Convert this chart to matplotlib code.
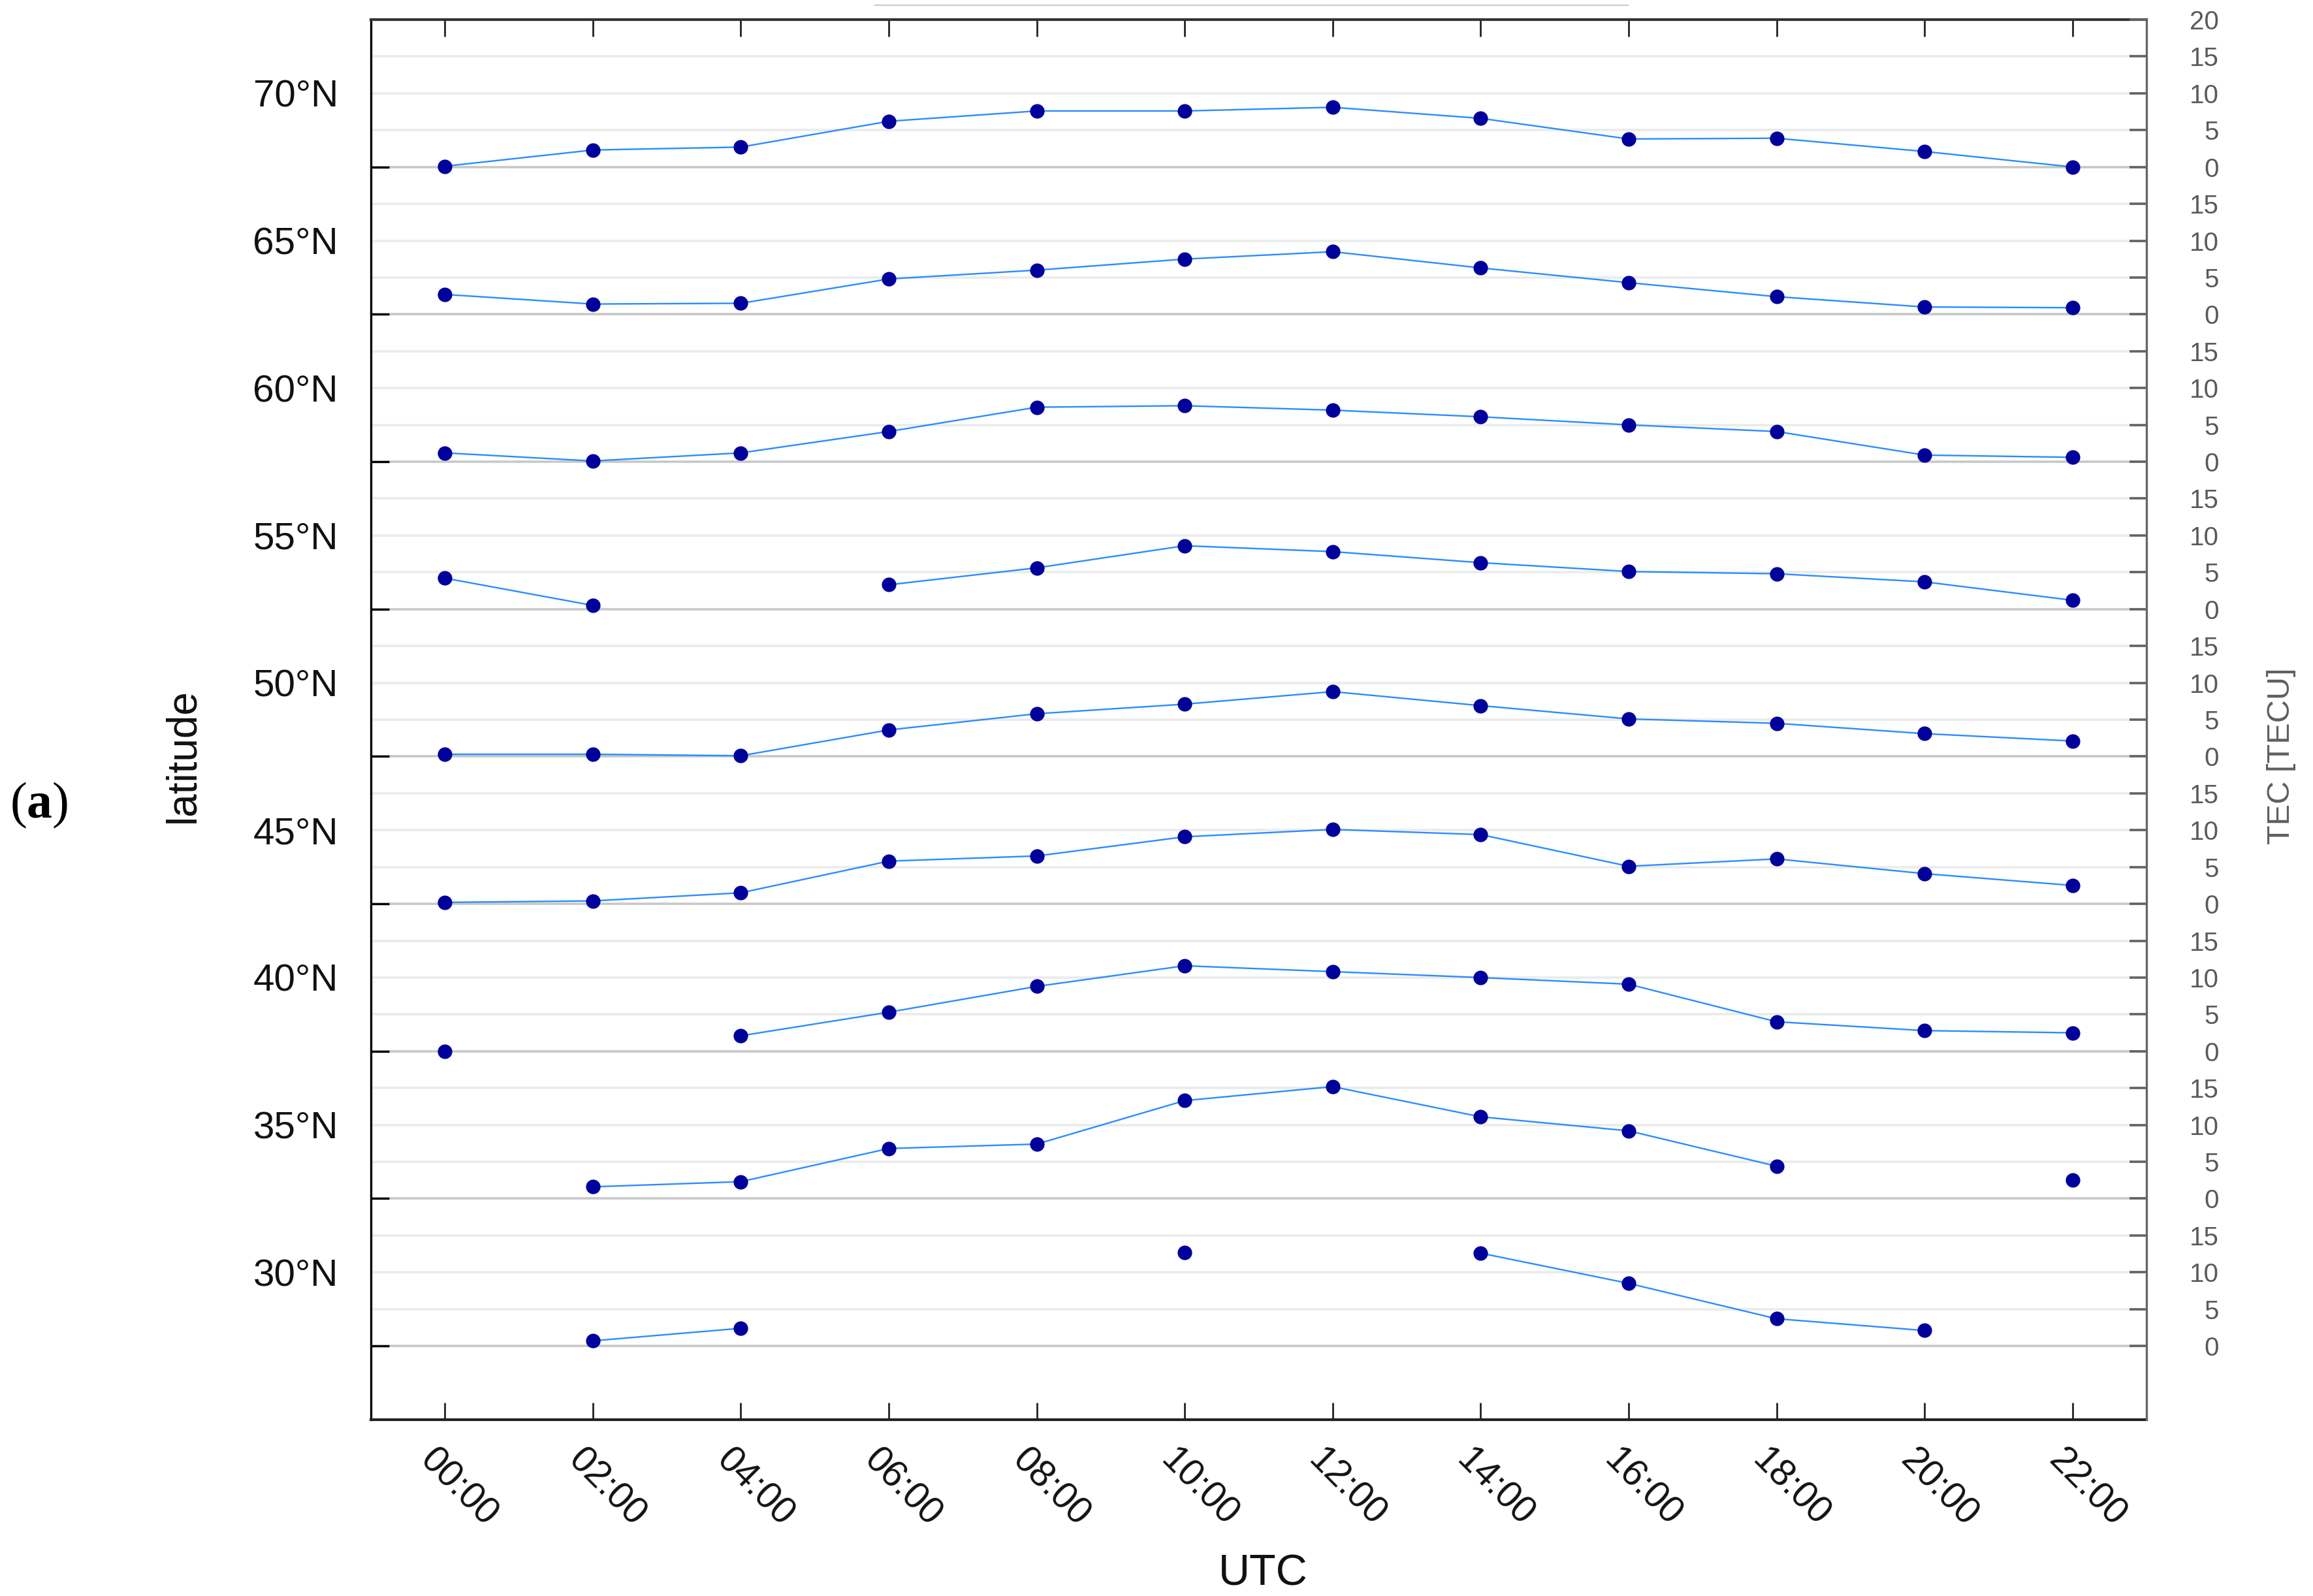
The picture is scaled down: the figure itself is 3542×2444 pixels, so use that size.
import numpy as np
import matplotlib
matplotlib.use("Agg")
import matplotlib.pyplot as plt
import matplotlib.transforms as mtransforms
from matplotlib.lines import Line2D

plt.rcParams['font.family'] = ['Liberation Sans', 'DejaVu Sans']
plt.rcParams['mathtext.fontset'] = 'custom'
plt.rcParams['mathtext.rm'] = 'Liberation Serif'
plt.rcParams['mathtext.bf'] = 'Liberation Serif:bold'

# ---- data ----
hours = [0, 2, 4, 6, 8, 10, 12, 14, 16, 18, 20, 22]
hour_labels = ["00:00", "02:00", "04:00", "06:00", "08:00", "10:00",
               "12:00", "14:00", "16:00", "18:00", "20:00", "22:00"]
nan = np.nan
lat_labels = ["70°N", "65°N", "60°N", "55°N", "50°N", "45°N", "40°N", "35°N", "30°N"]
lat_centers = [70, 65, 60, 55, 50, 45, 40, 35, 30]
tec_70 = [0.1, 2.3, 2.7, 6.2, 7.6, 7.6, 8.1, 6.6, 3.8, 3.9, 2.1, 0.0]
tec_65 = [2.7, 1.4, 1.5, 4.8, 6.0, 7.5, 8.5, 6.3, 4.3, 2.4, 1.0, 0.9]
tec_60 = [1.2, 0.1, 1.2, 4.1, 7.4, 7.6, 7.0, 6.1, 5.0, 4.1, 0.9, 0.6]
tec_55 = [4.2, 0.5, nan, 3.3, 5.6, 8.6, 7.8, 6.3, 5.1, 4.8, 3.7, 1.2]
tec_50 = [0.3, 0.3, 0.1, 3.6, 5.8, 7.1, 8.8, 6.9, 5.1, 4.5, 3.1, 2.1]
tec_45 = [0.2, 0.4, 1.5, 5.8, 6.5, 9.1, 10.1, 9.4, 5.1, 6.1, 4.1, 2.5]
tec_40 = [0.0, nan, 2.1, 5.3, 8.8, 11.6, 10.8, 10.0, 9.1, 4.0, 2.8, 2.5]
tec_35 = [nan, 1.6, 2.3, 6.8, 7.4, 13.3, 15.2, 11.1, 9.2, 4.4, nan, 2.5]
tec_30 = [nan, 0.7, 2.4, nan, nan, 12.7, nan, 12.6, 8.5, 3.7, 2.1, nan]
series = [tec_70, tec_65, tec_60, tec_55, tec_50, tec_45, tec_40, tec_35, tec_30]
tec_tick_values = [0, 5, 10, 15]

# ---- layout ----
W, H = 3542, 2444
fig = plt.figure(figsize=(W / 100, H / 100), dpi=100)
L, R, T, B = 568, 3287, 30, 2174
ax = fig.add_axes([L / W, 1 - B / H, (R - L) / W, (B - T) / H])
ax.set_xlim(-1, 23)
ax.set_ylim(25, 72.5)

band = 5.0          # degrees of latitude per band
tec_span = 20.0     # TECU per band
scale = band / tec_span

baselines = [c - band / 2 for c in lat_centers]

# grid lines
for b in baselines:
    for k in range(0, 4):
        y = b + k * 5 * scale
        if k == 0:
            ax.axhline(y, color='#c8c8c8', lw=2.6, zorder=0.6)
        else:
            ax.axhline(y, color='#ececec', lw=2.8, zorder=0.5)

# data
for b, vals in zip(baselines, series):
    v = np.array(vals, dtype=float)
    ax.plot(hours, b + v * scale, color='#2a8cff', lw=1.7, zorder=2,
            marker='o', markersize=16, markerfacecolor='#00009a',
            markeredgecolor='#00009a', markeredgewidth=0)

# x axis
ax.set_xticks(hours)
ax.set_xticklabels(hour_labels)
ax.tick_params(axis='x', which='major', direction='in', top=True, bottom=True,
               length=19, width=2.0, color='#222222', labelsize=41,
               labelcolor='#111111', pad=25)
shift = mtransforms.ScaledTranslation(-10 / 100, 0, fig.dpi_scale_trans)
for lab in ax.get_xticklabels():
    lab.set_rotation(-45)
    lab.set_ha('left')
    lab.set_va('top')
    lab.set_rotation_mode('anchor')
    lab.set_transform(lab.get_transform() + shift)

# left y axis: ticks at baselines, labels at band centres
ax.set_yticks(baselines)
ax.set_yticklabels([''] * len(baselines))
ax.tick_params(axis='y', which='major', direction='in', length=20, width=2.4,
               color='black', left=True, right=False)
ax.set_yticks(lat_centers, minor=True)
ax.set_yticklabels(lat_labels, minor=True)
ax.tick_params(axis='y', which='minor', length=0, pad=36, labelsize=42,
               labelcolor='#111111')

ax.spines['left'].set_linewidth(2.4)
ax.spines['left'].set_color('black')
ax.spines['top'].set_linewidth(3.0)
ax.spines['top'].set_color('#333333')
ax.spines['bottom'].set_linewidth(3.0)
ax.spines['bottom'].set_color('#222222')
ax.spines['right'].set_visible(False)

# right axis: TEC per band
ax2 = ax.twinx()
ax2.set_ylim(25, 72.5)
rpos, rlab = [], []
for b in sorted(baselines):
    for t in tec_tick_values:
        rpos.append(b + t * scale)
        rlab.append(str(t))
rpos.append(max(baselines) + tec_span * scale)
rlab.append(str(int(tec_span)))
ax2.set_yticks(rpos)
ax2.set_yticklabels(rlab)
ax2.tick_params(axis='y', direction='in', length=19, width=2.6, color='#636363',
                labelsize=29, labelcolor='#5a5a5a', pad=80)
for lab in ax2.get_yticklabels():
    lab.set_ha('right')
for s in ['left', 'top', 'bottom']:
    ax2.spines[s].set_visible(False)
ax2.spines['right'].set_color('#666666')
ax2.spines['right'].set_linewidth(2.4)

# labels
fig.text(280 / W, 1 - 1157 / H, 'latitude', rotation=90, ha='center', va='center',
         fontsize=46, color='#111111')
fig.text(3493 / W, 1 - 1158 / H, 'TEC [TECU]', rotation=90, ha='center', va='center',
         fontsize=35, color='#5f5f5f')
fig.text(1934 / W, 1 - 2411 / H, 'UTC', ha='center', va='center',
         fontsize=48, color='#111111')
fig.text(60 / W, 1 - 1233 / H, r'($\mathbf{a}$)', ha='center', va='center',
         fontsize=56, family='Liberation Serif', color='black')

# faint decorative line at top
fig.add_artist(Line2D([1340 / W, 2493 / W], [1 - 8 / H, 1 - 8 / H],
                      color='#cccccc', lw=1.6, transform=fig.transFigure))

fig.savefig('out.png', dpi=100)
